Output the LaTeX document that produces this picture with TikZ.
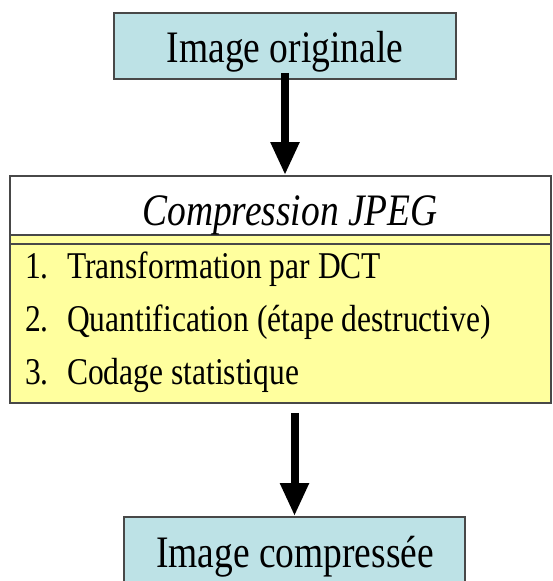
\documentclass[tikz,border=0pt]{standalone}
\usepackage{graphicx}
\usepackage{fontspec}
\setmainfont{Liberation Serif}
\usetikzlibrary{arrows.meta,calc}
\definecolor{boxcyan}{RGB}{189,226,230}
\definecolor{boxyellow}{RGB}{255,255,158}
\definecolor{edgegray}{RGB}{72,72,72}
\begin{document}
\begin{tikzpicture}[x=1pt,y=-1pt,
  boxshape/.style={draw=edgegray,line width=1.8pt,rectangle,inner sep=0pt},
  bigtext/.style={inner sep=0pt,anchor=base,font=\fontsize{37.5}{45}\selectfont},
  listtext/.style={inner sep=0pt,anchor=base west,font=\fontsize{31.5}{38}\selectfont},
  bigarrow/.style={line width=8pt,-{Triangle[width=27pt,length=33pt]}}]
\clip (0,0) rectangle (553,581);
\fill[white] (0,0) rectangle (553,581);
% top box
\node[boxshape,fill=boxcyan,minimum width=342pt,minimum height=66pt] (orig) at (285,46) {};
\node[bigtext] (origtxt) at (285,62) {\scalebox{1}[1.2]{Image originale}};
% compression box
\node[boxshape,fill=white,minimum width=541pt,minimum height=59pt] (comphead) at (280.5,205.5) {};
\node[boxshape,fill=boxyellow,minimum width=541pt,minimum height=168pt] (complist) at (280.5,319) {};
\coordinate (sepy) at (0,244);
\draw[edgegray,line width=1.8pt] (complist.west |- sepy) -- (complist.east |- sepy);
\node[bigtext] (title) at (290,225) {\scalebox{1}[1.2]{\itshape Compression JPEG}};
\node[listtext] (l1) at (25,278) {\scalebox{1}[1.2]{\makebox[42pt][l]{1.}Transformation par DCT}};
\node[listtext] (l2) at (25,331) {\scalebox{1}[1.2]{\makebox[42pt][l]{2.}Quantification (étape destructive)}};
\node[listtext] (l3) at (25,384) {\scalebox{1}[1.2]{\makebox[42pt][l]{3.}Codage statistique}};
% bottom box
\node[boxshape,fill=boxcyan,minimum width=341pt,minimum height=80pt] (final) at (294.5,557) {};
\node[bigtext] (finaltxt) at (295,567) {\scalebox{1}[1.2]{Image compressée}};
% arrows
\draw[bigarrow] ([yshift=7pt]orig.south) -- (orig.south |- comphead.north);
\draw[bigarrow] ($(complist.south -| final.north)+(0,9)$) -- (final.north);
\end{tikzpicture}
\end{document}
